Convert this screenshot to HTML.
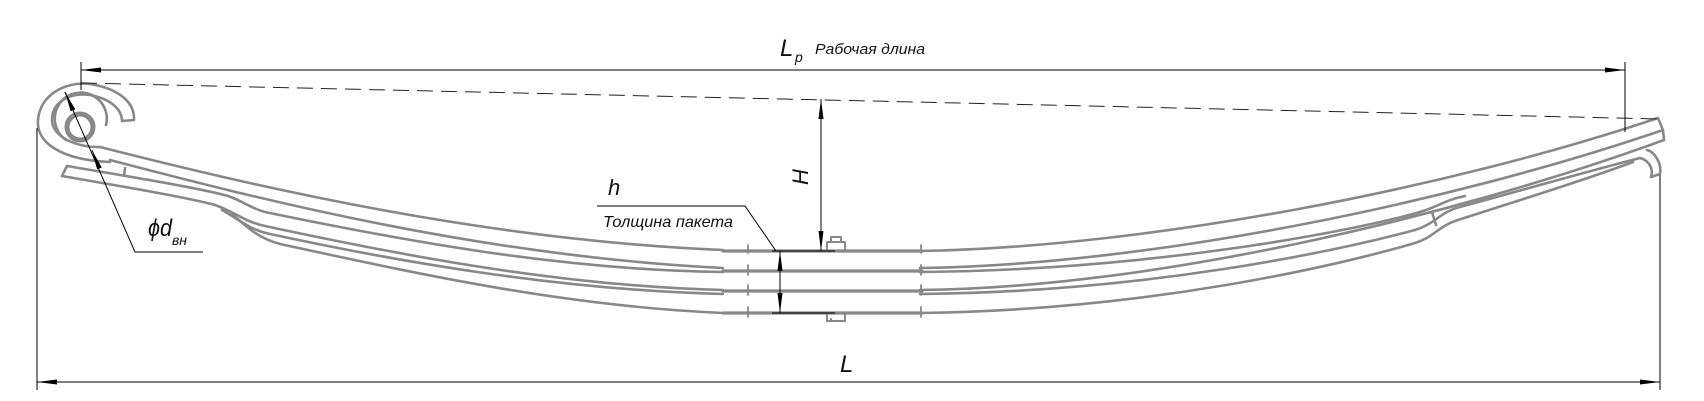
<!DOCTYPE html>
<html><head><meta charset="utf-8"><style>
html,body{margin:0;padding:0;background:#fff;}
svg{display:block;}
text{font-family:"Liberation Sans",sans-serif;font-style:italic;fill:#111;}
</style></head><body>
<svg width="1704" height="401" viewBox="0 0 1704 401" xmlns="http://www.w3.org/2000/svg">
<defs>
<marker id="a" viewBox="0 0 20 8" refX="20" refY="4" markerWidth="20" markerHeight="8" markerUnits="userSpaceOnUse" orient="auto-start-reverse"><path d="M0,1.5 L20,4 L0,6.5 z" fill="#000"/></marker>
</defs>

<g fill="none" stroke="#888" stroke-width="2.6" stroke-linecap="round" stroke-linejoin="round">
<circle cx="80" cy="127" r="13" stroke-width="5"/>
<path d="M110,162 C60,160 36,142 38,120 C40,95 65,81 90,84 C115,88 135,100 134,120 L122,121 C122,108 108,98 90,95 C70,92 52,102 52,120 C52,138 80,148 100,147"/>
<path d="M66,140 A26,26 0 1 1 106,125"/>
<path d="M100,147 C250,185 480,240 723,250"/>
<path d="M110,160 C255,198 480,256 723,268"/>
<path d="M67,166 C120,175 200,188 228,196 C245,202 250,208 265,212 C400,240 560,270 723,272"/>
<path d="M62,176 C120,186 190,198 215,205 C235,212 245,222 265,226 C400,255 560,286 723,290"/>
<path d="M67,166 L62,176"/>
<path d="M125,168 L124,176"/>
<path d="M222,210 C240,220 250,230 270,234 C400,262 560,290 723,294"/>
<path d="M232,214 C248,228 258,238 280,244 C410,272 560,306 723,313"/>
<g stroke-width="3.2">
<path d="M723,251 H922 M723,271 H922 M723,291 H922 M723,313 H922"/>
</g>
<path d="M748,245 v8 M748,265 v10 M748,285 v10 M748,307 v10 M921,245 v8 M921,265 v10 M921,285 v10 M921,307 v10" stroke-width="1.8"/>
<path d="M827,251 V242 H845 V251 M831,242 V237 H841 V242" stroke-width="2"/>
<path d="M827,313 V321 H845 V313 M831,321 V319" stroke-width="2"/>
<path d="M920,251 C1150,247 1450,188 1658,118 L1663,130"/>
<path d="M920,268 C1150,265 1450,203 1663,130 L1664,140"/>
<path d="M920,272 C1150,270 1350,232 1420,212 C1440,206 1445,200 1465,196"/>
<path d="M920,290 C1150,288 1450,218 1664,140"/>
<path d="M920,294 C1150,292 1340,250 1415,230 C1435,224 1440,212 1460,207 C1530,188 1600,168 1640,158 C1648,160 1654,168 1651,177 L1660,174 C1662,164 1655,152 1647,150"/>
<path d="M920,313 C1150,310 1340,265 1415,243 C1432,238 1440,226 1455,221 C1530,197 1590,178 1633,162"/>
<path d="M1432,212 L1436,225"/>
</g>

<path d="M81,83 L1660,119" stroke="#222" stroke-width="1" stroke-dasharray="16,8" fill="none"/>

<g stroke="#000" stroke-width="1" fill="none">
<path d="M81,62 V90"/>
<path d="M1625,62 V132"/>
<path d="M81,70 H1625" marker-start="url(#a)" marker-end="url(#a)"/>
<path d="M37,128 V390"/>
<path d="M1660,175 V390"/>
<path d="M37,382 H1660" marker-start="url(#a)" marker-end="url(#a)"/>
<path d="M821,99 V251" marker-start="url(#a)" marker-end="url(#a)"/>
<path d="M772,251 H835 M772,313 H835"/>
<path d="M780,251 V313" marker-start="url(#a)" marker-end="url(#a)"/>
<path d="M776,251 L745,206 H597"/>
<path d="M65,92 L135,252 H203"/>
<path d="M65,92 L72,108" marker-start="url(#a)"/>
<path d="M92,150 L96,160" marker-start="url(#a)"/>
</g>

<text x="780" y="56" font-size="24">L</text>
<text x="795" y="62" font-size="14">p</text>
<text x="815" y="54" font-size="15" textLength="110" lengthAdjust="spacingAndGlyphs">Рабочая длина</text>
<text x="840" y="372" font-size="24">L</text>
<text x="608" y="195" font-size="22">h</text>
<text x="603" y="227" font-size="16" textLength="130" lengthAdjust="spacingAndGlyphs">Толщина пакета</text>
<text transform="translate(808,185) rotate(-90)" font-size="22">H</text>
<text x="148" y="236" font-size="24" textLength="24" lengthAdjust="spacingAndGlyphs">ϕd</text>
<text x="172" y="245" font-size="14">вн</text>
</svg>
</body></html>
